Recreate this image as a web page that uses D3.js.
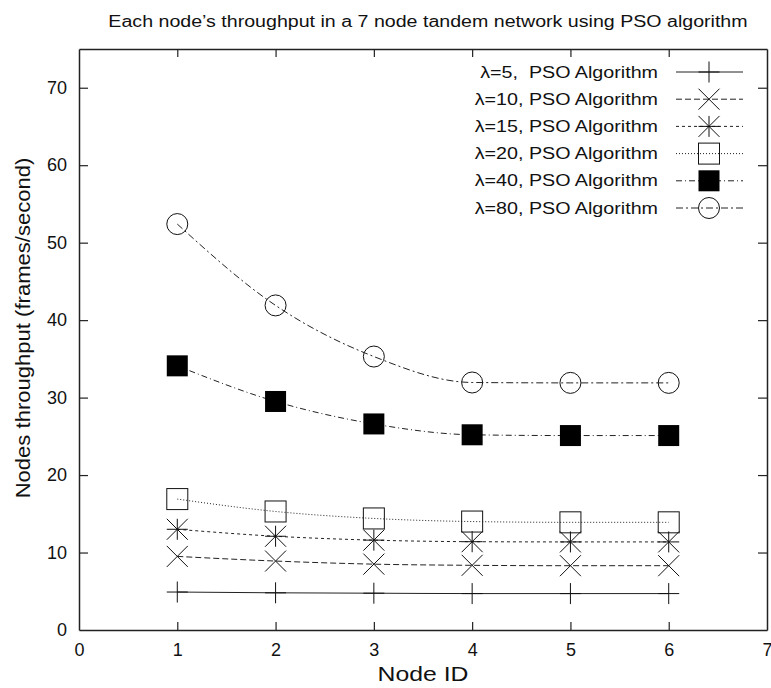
<!DOCTYPE html>
<html>
<head>
<meta charset="utf-8">
<script src="https://cdn.jsdelivr.net/npm/d3@7"></script>
<style>
  body { margin: 0; background: #fff; }
  text { font-family: "Liberation Sans", Arial, sans-serif; fill: #111; }
</style>
</head>
<body>
<svg id="chart" width="771" height="688"></svg>
<script>
// node ids on the x axis
const nodeIds = [1, 2, 3, 4, 5, 6];

// throughput of each node
const lambda5  = [4.9, 4.8, 4.75, 4.7, 4.7, 4.7];
const lambda10 = [9.5, 8.9, 8.5, 8.35, 8.3, 8.3];
const lambda15 = [13.0, 12.1, 11.6, 11.4, 11.37, 11.37];
const lambda20 = [16.9, 15.3, 14.4, 14.0, 13.9, 13.9];
const lambda40 = [34.1, 29.5, 26.6, 25.2, 25.1, 25.1];
const lambda80 = [52.4, 41.9, 35.3, 31.95, 31.9, 31.9];

const seriesNames = ["λ=5,  PSO Algorithm", "λ=10, PSO Algorithm", "λ=15, PSO Algorithm",
                     "λ=20, PSO Algorithm", "λ=40, PSO Algorithm", "λ=80, PSO Algorithm"];
const seriesValues = [lambda5, lambda10, lambda15, lambda20, lambda40, lambda80];

const xTicks = [0, 1, 2, 3, 4, 5, 6, 7];
const yTicks = [0, 10, 20, 30, 40, 50, 60, 70];

// line/marker style per series
const dashes  = [null, "6,3", "3,3", "1,2", "6,3,1,3", "7,3,2,3"];
const markers = ["plus", "cross", "star", "box", "filledbox", "circle"];

let margin = {top: 49, right: 4, bottom: 58, left: 79};
let width = 771 - margin.left - margin.right,
    height = 688 - margin.top - margin.bottom;

let svg = d3.select("#chart");
let g = svg.append("g").attr("transform", "translate(" + margin.left + "," + margin.top + ")");

let x = d3.scaleLinear().domain([0, 7]).range([0, width]);
let y = d3.scaleLinear().domain([0, 75]).range([height, 0]);

// the original picture is a bit wider than tall, so stretch text sideways
function stretch(sel, factor) {
    sel.each(function() {
        let w = this.getComputedTextLength();
        d3.select(this).attr("textLength", w * factor).attr("lengthAdjust", "spacingAndGlyphs");
    });
}

// frame with inward ticks on all four sides
const axisColor = "#222";
g.append("g").attr("transform", "translate(0," + height + ")")
    .call(d3.axisBottom(x).tickValues(xTicks).tickFormat(d3.format("d")).tickSizeInner(-8).tickSizeOuter(0).tickPadding(13))
    .call(a => a.selectAll("text").attr("font-size", 18).attr("fill", "#111"));
g.append("g")
    .call(d3.axisTop(x).tickValues(xTicks).tickSizeInner(-8).tickSizeOuter(0).tickFormat(""));
g.append("g")
    .call(d3.axisLeft(y).tickValues(yTicks).tickFormat(d3.format("d")).tickSizeInner(-9).tickSizeOuter(0).tickPadding(12))
    .call(a => a.selectAll("text").attr("font-size", 18).attr("fill", "#111"));
g.append("g").attr("transform", "translate(" + width + ",0)")
    .call(d3.axisRight(y).tickValues(yTicks).tickSizeInner(-9).tickSizeOuter(0).tickFormat(""));
g.selectAll(".domain").attr("stroke", axisColor).attr("stroke-width", 1.5);
g.selectAll(".tick line").attr("stroke", axisColor).attr("stroke-width", 1.2);
// drop ticks that sit on the frame corners
g.selectAll(".tick").filter(d => d === 0 || d === 7).select("line").remove();

// marker drawing
function drawMarker(sel, type) {
    let s = 10.5;
    if (type === "plus") {
        sel.append("path").attr("d", `M${-s},0H${s}M0,${-s}V${s}`).attr("stroke", "#111").attr("fill", "none");
    } else if (type === "cross") {
        sel.append("path").attr("d", `M${-s},${-s}L${s},${s}M${-s},${s}L${s},${-s}`).attr("stroke", "#111").attr("fill", "none");
    } else if (type === "star") {
        sel.append("path").attr("d", `M${-s},0H${s}M0,${-s}V${s}M${-s},${-s}L${s},${s}M${-s},${s}L${s},${-s}`)
            .attr("stroke", "#111").attr("fill", "none");
    } else if (type === "box") {
        sel.append("rect").attr("x", -s).attr("y", -s).attr("width", 2 * s).attr("height", 2 * s)
            .attr("stroke", "#111").attr("fill", "none");
    } else if (type === "filledbox") {
        sel.append("rect").attr("x", -s).attr("y", -s).attr("width", 2 * s).attr("height", 2 * s)
            .attr("fill", "#000");
    } else if (type === "circle") {
        sel.append("circle").attr("r", s).attr("stroke", "#111").attr("fill", "none");
    }
}

let line = d3.line()
    .x((d, i) => x(nodeIds[i]))
    .y(d => y(d))
    .curve(d3.curveMonotoneX);

seriesValues.forEach(function(vals, k) {
    g.append("path")
        .attr("d", line(vals))
        .attr("fill", "none")
        .attr("stroke", "#222")
        .attr("stroke-width", 1)
        .attr("stroke-dasharray", dashes[k]);
    vals.forEach(function(v, i) {
        let m = g.append("g").attr("transform", "translate(" + x(nodeIds[i]) + "," + y(v) + ")");
        drawMarker(m, markers[k]);
    });
});

// legend
let legend = svg.append("g");
seriesNames.forEach(function(name, k) {
    let ly = 72 + k * 27.2;
    legend.append("text")
        .attr("x", 658).attr("y", ly).attr("dy", "0.35em")
        .attr("text-anchor", "end")
        .attr("font-size", 16)
        .style("white-space", "pre")
        .text(name)
        .call(stretch, 1.23);
    legend.append("line")
        .attr("x1", 676).attr("x2", 743).attr("y1", ly).attr("y2", ly)
        .attr("stroke", "#222").attr("stroke-width", 1)
        .attr("stroke-dasharray", dashes[k]);
    let m = legend.append("g").attr("transform", "translate(709," + ly + ")");
    drawMarker(m, markers[k]);
});

// title and axis labels
svg.append("text")
    .attr("x", 428).attr("y", 27)
    .attr("text-anchor", "middle")
    .attr("font-size", 16)
    .text("Each node’s throughput in a 7 node tandem network using PSO algorithm")
    .call(stretch, 1.225);

svg.append("text")
    .attr("x", 423).attr("y", 681)
    .attr("text-anchor", "middle")
    .attr("font-size", 21)
    .text("Node ID")
    .call(stretch, 1.18);

svg.append("text")
    .attr("transform", "translate(30,328) rotate(-90)")
    .attr("text-anchor", "middle")
    .attr("font-size", 21)
    .text("Nodes throughput (frames/second)")
    .call(stretch, 1.05);
</script>
</body>
</html>
